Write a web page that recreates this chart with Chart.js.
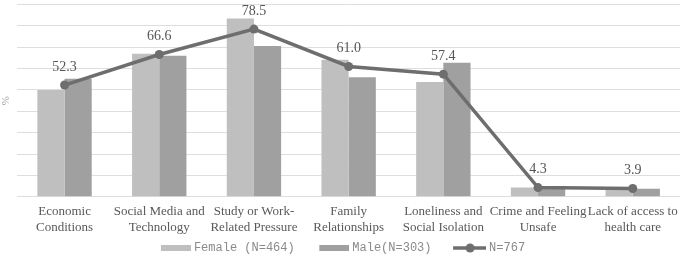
<!DOCTYPE html>
<html>
<head>
<meta charset="utf-8">
<script src="https://cdn.jsdelivr.net/npm/chart.js@4.4.1/dist/chart.umd.min.js"></script>
<style>
  html, body { margin: 0; padding: 0; background: #fff; }
  #wrap { width: 685px; height: 259px; position: relative; }
</style>
</head>
<body>
<div id="wrap"><canvas id="myChart"></canvas></div>
<script>
// categories (two lines each)
var categories = [
    ['Economic', 'Conditions'],
    ['Social Media and', 'Technology'],
    ['Study or Work-', 'Related Pressure'],
    ['Family', 'Relationships'],
    ['Loneliness and', 'Social Isolation'],
    ['Crime and Feeling', 'Unsafe'],
    ['Lack of access to', 'health care']
];
var female = [50.0, 67.0, 83.5, 64.2, 53.7, 4.4, 4.0];
var male = [55.3, 66.0, 70.6, 55.9, 62.7, 4.1, 3.8];
var total = [52.3, 66.6, 78.5, 61.0, 57.4, 4.3, 3.9];
var seriesNames = ['Female (N=464)', 'Male(N=303)', 'N=767'];

var femaleColor = '#bfbfbf';
var maleColor = '#a0a0a0';
var lineColor = '#6e6e6e';

// little canvases used as legend symbols (drawn 3px right so the text sits close)
function boxIcon(color) {
    var c = document.createElement('canvas');
    c.width = 36; c.height = 6;
    var g = c.getContext('2d');
    g.fillStyle = color;
    g.fillRect(6, 0, 30, 6);
    return c;
}
function lineIcon(color) {
    var c = document.createElement('canvas');
    c.width = 36; c.height = 10;
    var g = c.getContext('2d');
    g.strokeStyle = color;
    g.lineWidth = 3.5;
    g.beginPath(); g.moveTo(3, 5); g.lineTo(36, 5); g.stroke();
    g.fillStyle = color;
    g.beginPath(); g.arc(20, 5, 4.5, 0, Math.PI * 2); g.fill();
    return c;
}

// draws the value labels above the line points
var pointLabels = {
    id: 'pointLabels',
    afterDatasetsDraw: function(chart) {
        var ctx = chart.ctx;
        var meta = chart.getDatasetMeta(2);
        ctx.save();
        ctx.font = '14px "Liberation Serif", "Times New Roman", serif';
        ctx.fillStyle = '#555555';
        ctx.textAlign = 'center';
        ctx.textBaseline = 'middle';
        meta.data.forEach(function(pt, i) {
            ctx.fillText(total[i].toFixed(1), pt.x, pt.y - 18);
        });
        ctx.restore();
    }
};

var ctx = document.getElementById('myChart').getContext('2d');
var myChart = new Chart(ctx, {
    type: 'bar',
    data: {
        labels: categories,
        datasets: [{
            label: seriesNames[0],
            data: female,
            backgroundColor: femaleColor,
            categoryPercentage: 0.574,
            barPercentage: 1.0,
            order: 2
        }, {
            label: seriesNames[1],
            data: male,
            backgroundColor: maleColor,
            categoryPercentage: 0.574,
            barPercentage: 1.0,
            order: 2
        }, {
            type: 'line',
            label: seriesNames[2],
            data: total,
            borderColor: lineColor,
            backgroundColor: lineColor,
            borderWidth: 3.5,
            pointRadius: 4.5,
            pointHoverRadius: 4.5,
            pointBackgroundColor: lineColor,
            pointBorderWidth: 0,
            tension: 0,
            order: 1
        }]
    },
    options: {
        responsive: true,
        maintainAspectRatio: false,
        animation: false,
        layout: { padding: { top: 1, right: 2, left: 0, bottom: -5 } },
        plugins: {
            tooltip: { enabled: false },
            legend: {
                position: 'bottom',
                labels: {
                    usePointStyle: true,
                    pointStyleWidth: 30,
                    boxHeight: 6,
                    padding: 0,
                    color: '#8a8a8a',
                    font: { family: '"Liberation Mono", "Courier New", monospace', size: 12 },
                    generateLabels: function(chart) {
                        var icons = [boxIcon(femaleColor), boxIcon(maleColor), lineIcon(lineColor)];
                        return seriesNames.map(function(name, i) {
                            // trailing spaces give the gap between legend items
                            return {
                                text: i < seriesNames.length - 1 ? name + '   ' : name,
                                pointStyle: icons[i],
                                fillStyle: 'transparent',
                                strokeStyle: 'transparent',
                                lineWidth: 0,
                                fontColor: '#8a8a8a',
                                hidden: false,
                                datasetIndex: i
                            };
                        });
                    }
                }
            }
        },
        scales: {
            x: {
                grid: { display: false, drawTicks: false },
                border: { display: false },
                ticks: {
                    padding: 7,
                    maxRotation: 0,
                    autoSkip: false,
                    color: '#595959',
                    font: { family: '"Liberation Serif", "Times New Roman", serif', size: 13 }
                }
            },
            y: {
                min: 0,
                max: 90,
                grid: { color: '#dedede', lineWidth: 1, drawTicks: false },
                border: { display: false },
                ticks: { display: false, stepSize: 10 },
                title: {
                    display: true,
                    text: '%',
                    color: '#a0a0a0',
                    padding: { top: 0, bottom: 4 },
                    font: { family: '"Liberation Serif", serif', size: 11 }
                }
            }
        }
    },
    plugins: [pointLabels]
});
</script>
</body>
</html>
